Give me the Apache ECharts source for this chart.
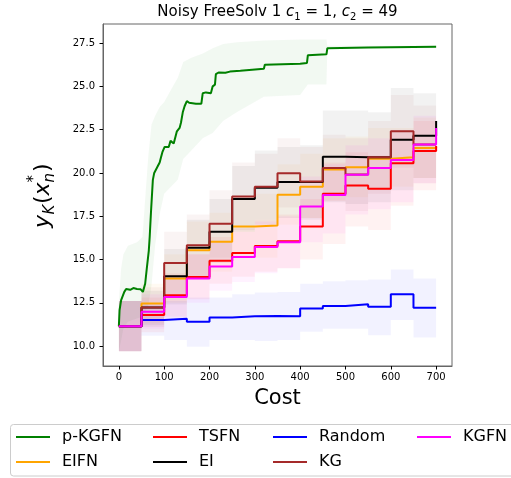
<!DOCTYPE html>
<html>
<head>
<meta charset="utf-8">
<script src="https://cdn.jsdelivr.net/npm/echarts@6/dist/echarts.min.js"></script>
<style>
  html, body { margin: 0; padding: 0; background: #fff; }
  #chart { width: 511px; height: 478px; }
</style>
</head>
<body>
<div id="chart"></div>
<script>
// cost grid of the step methods
const costs = [0, 50, 100, 150, 200, 250, 300, 350, 400, 450, 500, 550, 600, 650, 700]

const eifn = [11.15, 12.46, 13.9, 15.53, 16.02, 16.91, 16.97, 18.74, 19.2, 20.2, 20.33, 20.82, 20.9, 21.44, 21.5]
const eifnLo = [9.7, 11.3, 12.5, 13.9, 14.3, 15.2, 15.1, 17.0, 17.4, 18.4, 18.6, 19.0, 19.2, 19.7, 19.7]
const eifnHi = [12.6, 13.6, 15.3, 17.2, 17.7, 18.6, 18.8, 20.5, 21.1, 22.0, 22.1, 22.6, 22.6, 23.2, 23.2]

const tsfn = [11.15, 11.79, 12.94, 13.99, 14.93, 15.37, 15.78, 16.05, 16.9, 18.8, 19.27, 19.08, 20.56, 21.26, 21.55]
const tsfnLo = [9.7, 10.8, 11.7, 12.7, 13.6, 14.0, 14.3, 14.5, 15.0, 15.9, 16.9, 16.7, 18.1, 19.0, 19.0]
const tsfnHi = [12.6, 12.8, 14.2, 15.3, 16.3, 16.8, 17.3, 17.6, 18.5, 20.6, 21.2, 21.0, 22.4, 23.0, 23.2]

const ei = [11.15, 12.23, 14.03, 15.68, 16.6, 18.49, 19.14, 19.47, 19.47, 20.94, 20.9, 20.9, 21.92, 22.15, 23.0]
const eiLo = [9.7, 11.2, 12.4, 14.0, 14.8, 16.6, 17.0, 17.4, 17.3, 18.3, 18.2, 18.3, 19.0, 19.7, 20.5]
const eiHi = [12.6, 13.2, 15.6, 17.3, 18.5, 20.4, 21.3, 21.5, 21.6, 23.6, 23.6, 23.5, 24.9, 24.6, 25.5]

const random = [11.15, 11.5, 11.58, 11.4, 11.65, 11.72, 11.74, 11.73, 12.17, 12.32, 12.42, 12.27, 13.0, 12.22, 12.22]
const randomLo = [9.7, 10.6, 10.35, 9.96, 10.35, 10.35, 10.3, 10.35, 10.83, 11.0, 11.0, 10.63, 11.5, 10.5, 10.5]
const randomHi = [12.6, 12.4, 12.6, 12.8, 12.8, 13.0, 13.1, 13.13, 13.6, 13.75, 13.8, 13.85, 14.42, 13.9, 13.9]

const kg = [11.15, 12.23, 14.8, 15.82, 17.07, 18.64, 19.2, 19.98, 19.5, 20.29, 19.91, 20.9, 22.4, 21.64, 21.64]
const kgLo = [9.7, 11.1, 13.0, 14.0, 15.1, 16.7, 17.3, 18.0, 17.4, 18.4, 17.8, 18.8, 20.3, 19.4, 19.4]
const kgHi = [12.6, 13.4, 16.6, 17.6, 19.0, 20.6, 21.1, 22.0, 21.5, 22.2, 22.0, 23.0, 24.5, 23.9, 23.9]

const kgfn = [11.15, 11.98, 12.84, 13.9, 14.6, 15.14, 15.72, 16.0, 18.06, 18.72, 19.9, 20.29, 20.75, 21.64, 22.6]
const kgfnLo = [9.7, 11.0, 11.6, 12.5, 13.2, 13.7, 14.2, 14.5, 16.0, 16.5, 17.6, 17.9, 18.3, 19.4, 20.4]
const kgfnHi = [12.6, 13.0, 14.1, 15.3, 16.0, 16.6, 17.2, 17.5, 19.8, 20.5, 21.6, 22.0, 22.5, 23.3, 24.2]

// p-KGFN is evaluated on a finer cost grid
const pkgfnCost = [0, 1.5, 5, 12, 16, 25, 32, 40, 48, 53, 58, 62, 66, 68, 71, 75, 78, 82, 86, 90,
  93, 96, 101, 110, 114, 118, 121, 125, 128, 134, 137, 141, 145, 150, 155, 170, 182, 185, 192, 203,
  207, 212, 214, 220, 235, 245, 268, 272, 320, 322, 400, 415, 417, 458, 460, 550, 700]
const pkgfn = [11.15, 12.07, 12.65, 13.13, 13.3, 13.25, 13.35, 13.3, 13.28, 13.13, 13.6, 14.57, 15.5, 16.3, 17.8, 19.6, 20.0, 20.1, 20.4, 20.6,
  20.9, 21.2, 21.5, 21.5, 21.85, 21.9, 21.7, 22.1, 22.4, 22.6, 22.9, 23.5, 23.85, 24.15, 24.05, 24.0, 24.0, 24.6, 24.65, 24.6,
  25.0, 25.1, 25.7, 25.8, 25.78, 25.85, 25.9, 26.0, 26.02, 26.25, 26.3, 26.35, 26.8, 26.85, 27.2, 27.25, 27.28]
const pkgfnBandCost = [0, 5, 10, 20, 40, 52, 58, 65, 72, 80, 90, 100, 115, 130, 142, 160, 185, 207, 230, 260, 320, 400, 417, 458, 460, 700]
const pkgfnLo = [9.7, 10.3, 11.0, 11.4, 11.6, 11.7, 12.0, 12.3, 13.5, 15.8, 17.6, 18.8, 19.2, 19.6, 20.8, 21.3, 22.0, 22.3, 23.0, 23.5, 24.4, 24.5, 25.1, 25.1, 27.2, 27.2]
const pkgfnHi = [12.6, 14.5, 15.3, 15.8, 16.0, 16.3, 18.5, 21.0, 22.8, 23.3, 23.8, 24.1, 24.8, 25.5, 26.4, 26.65, 26.9, 27.2, 27.45, 27.55, 27.65, 27.7, 27.7, 27.7, 27.35, 27.35]

const xTicks = [0, 100, 200, 300, 400, 500, 600, 700]
const yTicks = [10, 12.5, 15, 17.5, 20, 22.5, 25, 27.5]

const methods = [
  { name: 'p-KGFN', color: '#008000', xs: pkgfnCost, mean: pkgfn, bx: pkgfnBandCost, lo: pkgfnLo, hi: pkgfnHi, step: false },
  { name: 'EIFN', color: '#ffa500', xs: costs, mean: eifn, bx: costs, lo: eifnLo, hi: eifnHi, step: 'end' },
  { name: 'TSFN', color: '#ff0000', xs: costs, mean: tsfn, bx: costs, lo: tsfnLo, hi: tsfnHi, step: 'end' },
  { name: 'EI', color: '#000000', xs: costs, mean: ei, bx: costs, lo: eiLo, hi: eiHi, step: 'end' },
  { name: 'Random', color: '#0000ff', xs: costs, mean: random, bx: costs, lo: randomLo, hi: randomHi, step: 'end' },
  { name: 'KG', color: '#a52a2a', xs: costs, mean: kg, bx: costs, lo: kgLo, hi: kgHi, step: 'end' },
  { name: 'KGFN', color: '#ff00ff', xs: costs, mean: kgfn, bx: costs, lo: kgfnLo, hi: kgfnHi, step: 'end' }
]

const series = []
// 阴影带：用 custom 系列按坐标轴换算画多边形
methods.forEach(m => {
  series.push({
    name: m.name + '_band', type: 'custom', silent: true, z: 1, clip: true,
    data: [0],
    renderItem: (params, api) => {
      const up = []
      const dn = []
      for (let i = 0; i < m.bx.length; i++) {
        up.push(api.coord([m.bx[i], m.hi[i]]))
        dn.push(api.coord([m.bx[i], m.lo[i]]))
        if (m.step && i < m.bx.length - 1) {
          up.push(api.coord([m.bx[i + 1], m.hi[i]]))
          dn.push(api.coord([m.bx[i + 1], m.lo[i]]))
        }
      }
      return {
        type: 'polygon',
        shape: { points: up.concat(dn.reverse()) },
        style: { fill: m.color, opacity: 0.05 }
      }
    }
  })
})
methods.forEach((m, k) => {
  series.push({
    name: m.name, type: 'line', step: m.step,
    data: m.xs.map((x, i) => [x, m.mean[i]]),
    symbol: 'none', color: m.color,
    lineStyle: { color: m.color, width: 2 }, z: 2 + k
  })
})

// 图例位置（两行四列）
const legendSlots = [
  ['p-KGFN', 16, 437], ['TSFN', 153, 437], ['Random', 273, 437], ['KGFN', 417, 437],
  ['EIFN', 16, 462], ['EI', 153, 462], ['KG', 273, 462]
]
const legends = legendSlots.map(s => ({
  data: [s[0]], left: s[1], top: s[2] - 9, padding: 0, itemGap: 0,
  icon: 'rect', itemWidth: 34, itemHeight: 2, selectedMode: false,
  textStyle: { fontSize: 16, lineHeight: 18, fontFamily: 'DejaVu Sans', color: '#000', padding: [0, 0, 0, 7] }
}))

const chart = echarts.init(document.getElementById('chart'))
chart.setOption({
  animation: false,
  backgroundColor: '#fff',
  textStyle: { fontFamily: 'DejaVu Sans' },
  grid: { left: 103, right: 59, top: 24, bottom: 112, show: true, borderColor: '#666', borderWidth: 1 },
  legend: legends,
  xAxis: {
    type: 'value', min: -35, max: 735,
    name: 'Cost', nameLocation: 'middle', nameGap: 22,
    nameTextStyle: { fontSize: 21, color: '#000', fontFamily: 'DejaVu Sans' },
    axisLine: { show: true, onZero: false, lineStyle: { color: '#666' } },
    axisTick: { show: true, length: 3.5, customValues: xTicks, lineStyle: { color: '#000' } },
    axisLabel: { customValues: xTicks, fontSize: 10, color: '#000', margin: 6 },
    splitLine: { show: false }
  },
  yAxis: {
    type: 'value', min: 8.85, max: 28.6,
    axisLine: { show: true, onZero: false, lineStyle: { color: '#666' } },
    axisTick: { show: true, length: 3.5, customValues: yTicks, lineStyle: { color: '#000' } },
    axisLabel: { customValues: yTicks, fontSize: 10, color: '#000', margin: 8, formatter: v => v.toFixed(1) },
    splitLine: { show: false }
  },
  graphic: [
    {
      type: 'rect', z: -1, silent: true,
      shape: { x: 10.5, y: 424.5, width: 520, height: 51.5, r: 3 },
      style: { fill: '#fff', stroke: '#cccccc', lineWidth: 1 }
    },
    {
      type: 'text', x: 277.5, y: 12, silent: true,
      style: {
        text: '{n|Noisy FreeSolv 1 }{i|c}{s|1}{n| = 1, }{i|c}{s|2}{n| = 49}',
        align: 'center', verticalAlign: 'middle',
        rich: {
          n: { fontSize: 15, fontFamily: 'DejaVu Sans', lineHeight: 20, verticalAlign: 'middle' },
          i: { fontSize: 15, fontFamily: 'DejaVu Sans', fontStyle: 'italic', lineHeight: 20, verticalAlign: 'middle' },
          s: { fontSize: 10, fontFamily: 'DejaVu Sans', lineHeight: 10, verticalAlign: 'bottom' }
        }
      }
    },
    {
      type: 'group', x: 43, y: 195, rotation: Math.PI / 2, silent: true,
      children: [
        { type: 'text', x: -33, y: 0, style: { text: 'y', font: 'italic 22px DejaVu Sans', verticalAlign: 'middle', fill: '#000' } },
        { type: 'text', x: -19.5, y: 7, style: { text: 'K', font: 'italic 15px DejaVu Sans', verticalAlign: 'middle', fill: '#000' } },
        { type: 'text', x: -9, y: 0, style: { text: '(', font: '22px DejaVu Sans', verticalAlign: 'middle', fill: '#000' } },
        { type: 'text', x: -0.5, y: 0, style: { text: 'x', font: 'italic 22px DejaVu Sans', verticalAlign: 'middle', fill: '#000' } },
        { type: 'text', x: 12.5, y: -9, style: { text: '*', font: '15px DejaVu Sans', verticalAlign: 'middle', fill: '#000' } },
        { type: 'text', x: 12.5, y: 7, style: { text: 'n', font: 'italic 15px DejaVu Sans', verticalAlign: 'middle', fill: '#000' } },
        { type: 'text', x: 23, y: 0, style: { text: ')', font: '22px DejaVu Sans', verticalAlign: 'middle', fill: '#000' } }
      ]
    }
  ],
  series: series
})
</script>
</body>
</html>
